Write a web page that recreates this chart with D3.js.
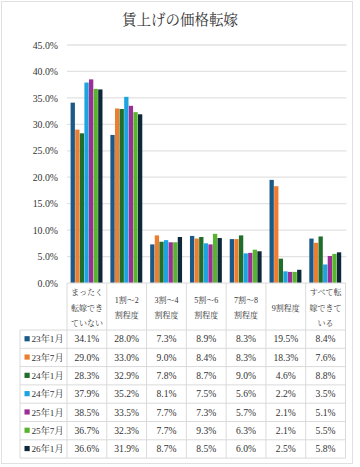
<!DOCTYPE html>
<html><head><meta charset="utf-8">
<script src="https://cdn.jsdelivr.net/npm/d3@7"></script>
<style>
html,body{margin:0;padding:0;background:#fff;}
svg{display:block;}
text{font-family:"Liberation Serif","DejaVu Serif","Noto Serif CJK JP","Noto Sans CJK JP",serif;fill:#333;}
</style></head>
<body><svg id="c" width="360" height="467"></svg>
<script>
const title = "賃上げの価格転嫁";
const categories = ["まったく転嫁できていない","1割～2割程度","3割～4割程度","5割～6割程度","7割～8割程度","9割程度","すべて転嫁できている"];
const categoryLines = [["まったく","転嫁でき","ていない"],["1割～2","割程度"],["3割～4","割程度"],["5割～6","割程度"],["7割～8","割程度"],["9割程度"],["すべて転","嫁できて","いる"]];
const seriesNames = ["23年1月","23年7月","24年1月","24年7月","25年1月","25年7月","26年1月"];
const s23_1 = [34.1,28.0,7.3,8.9,8.3,19.5,8.4];
const s23_7 = [29.0,33.0,9.0,8.4,8.3,18.3,7.6];
const s24_1 = [28.3,32.9,7.8,8.7,9.0,4.6,8.8];
const s24_7 = [37.9,35.2,8.1,7.5,5.6,2.2,3.5];
const s25_1 = [38.5,33.5,7.7,7.3,5.7,2.1,5.1];
const s25_7 = [36.7,32.3,7.7,9.3,6.3,2.1,5.5];
const s26_1 = [36.6,31.9,8.7,8.5,6.0,2.5,5.8];
const yTicks = [0,5,10,15,20,25,30,35,40,45];
const colors = ["#1b5a86","#ed7d31","#1f6e2c","#1ca3e0","#9c2e98","#58b42f","#0d2838"];

const series = [s23_1,s23_7,s24_1,s24_7,s25_1,s25_7,s26_1];
const svg = d3.select("#c");
const gridC = "#e2e2e2", borderC = "#dadada";

// frame
svg.append("rect").attr("x",1.5).attr("y",1.5).attr("width",351).attr("height",462)
  .attr("fill","none").attr("stroke","#e0e0e0");

svg.append("text").attr("x",180).attr("y",25).attr("text-anchor","middle")
  .style("font-size","14.5px").style("fill","#333").text(title);

const pLeft = 67, pRight = 345.5, pTop = 45, pBottom = 283;
const x0 = d3.scaleBand().domain(categories).range([pLeft,pRight]).padding(0);
const x1 = d3.scaleBand().domain(seriesNames).range([3.6, x0.bandwidth()-4]).padding(0);
const y = d3.scaleLinear().domain([0,45]).range([pBottom,pTop]);

// grid
svg.append("g").selectAll("line").data(yTicks.filter(d=>d>0)).join("line")
  .attr("x1",pLeft).attr("x2",pRight+1).attr("y1",d=>y(d)).attr("y2",d=>y(d))
  .attr("stroke",gridC).attr("stroke-width",1.3);

// y axis
const yAxis = d3.axisLeft(y).tickValues(yTicks).tickFormat(d=>d.toFixed(1)+"%").tickSize(0).tickPadding(9);
const ga = svg.append("g").attr("transform",`translate(${pLeft},0)`).call(yAxis);
ga.select(".domain").remove();
ga.selectAll("text").style("font-size","9.8px").style("fill","#333")
  .style("font-family","'Liberation Serif','DejaVu Serif',serif");

// bars
const groups = svg.append("g").selectAll("g").data(categories).join("g")
  .attr("transform",d=>`translate(${x0(d)},0)`);
groups.selectAll("rect").data((c,ci)=>seriesNames.map((s,si)=>({s,si,v:series[si][ci]}))).join("rect")
  .attr("x",d=>x1(d.s)).attr("width",x1.bandwidth()-0.3)
  .attr("y",d=>y(d.v)).attr("height",d=>y(0)-y(d.v))
  .attr("fill",d=>colors[d.si]);

// table
const headTop = pBottom, headBottom = 330, rowH = 18.3, legLeft = 20;
const tableBottom = headBottom + rowH*seriesNames.length;
const tg = svg.append("g");
tg.append("line").attr("x1",pLeft).attr("x2",pRight).attr("y1",headTop).attr("y2",headTop).attr("stroke",borderC);
for(let i=0;i<=seriesNames.length;i++){
  const yy = headBottom + i*rowH;
  tg.append("line").attr("x1",legLeft).attr("x2",pRight).attr("y1",yy).attr("y2",yy).attr("stroke",borderC);
}
tg.append("line").attr("x1",legLeft).attr("x2",legLeft).attr("y1",headBottom).attr("y2",tableBottom).attr("stroke",borderC);
categories.forEach(c=>{
  tg.append("line").attr("x1",x0(c)).attr("x2",x0(c)).attr("y1",headTop).attr("y2",tableBottom).attr("stroke",borderC);
});
tg.append("line").attr("x1",pRight).attr("x2",pRight).attr("y1",headTop).attr("y2",tableBottom).attr("stroke",borderC);

// category headers
categories.forEach((c,ci)=>{
  const lines = categoryLines[ci];
  const lh = 15.5, cy = (headTop+headBottom)/2 + 1;
  const t = tg.append("text").attr("text-anchor","middle").style("font-size","8px")
    .attr("x",x0(c)+x0.bandwidth()/2);
  lines.forEach((l,li)=>{
    t.append("tspan").attr("x",x0(c)+x0.bandwidth()/2)
      .attr("y",cy + (li-(lines.length-1)/2)*lh + 3).text(l);
  });
});

// rows
seriesNames.forEach((s,si)=>{
  const cy = headBottom + si*rowH + rowH/2;
  tg.append("rect").attr("x",24.5).attr("y",cy-3).attr("width",5.2).attr("height",5.2).attr("fill",colors[si]);
  tg.append("text").attr("x",31.5).attr("y",cy+3.3).style("font-size","9.2px").text(s);
  categories.forEach((c,ci)=>{
    tg.append("text").attr("x",x0(c)+x0.bandwidth()/2).attr("y",cy+3.3)
      .attr("text-anchor","middle").style("font-size","9.6px").text(series[si][ci].toFixed(1)+"%");
  });
});
</script></body></html>
